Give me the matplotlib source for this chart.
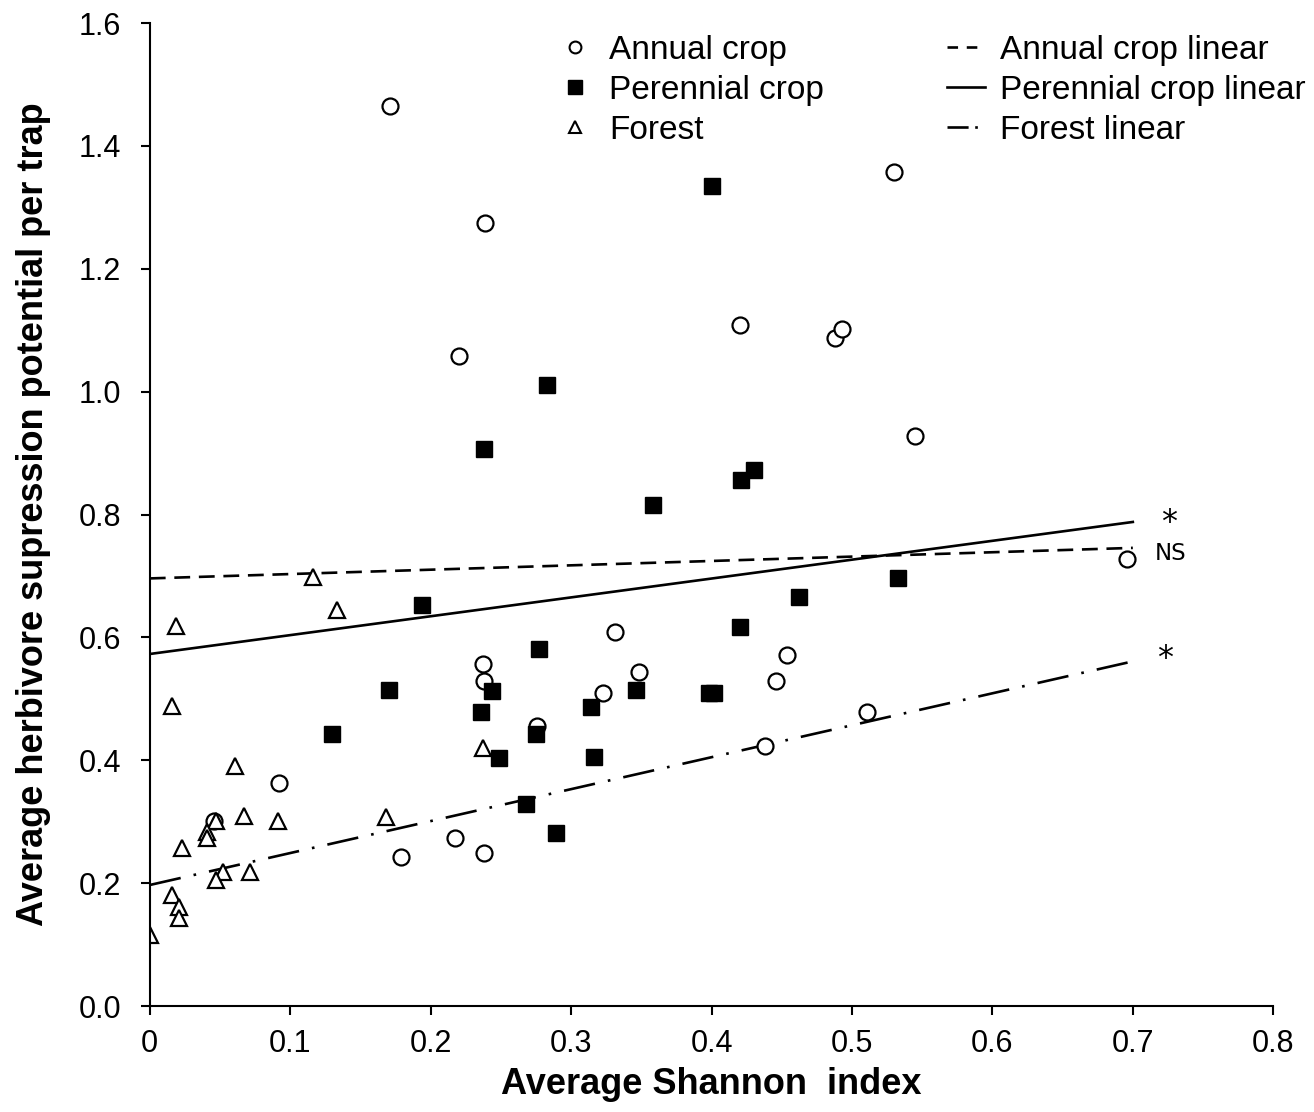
import numpy as np
import matplotlib
matplotlib.use("Agg")
import matplotlib.pyplot as plt
from matplotlib.lines import Line2D

plt.rcParams['font.family'] = ['Liberation Sans', 'DejaVu Sans']

# annual crop (open circles)
annual_x = [0.171, 0.239, 0.220, 0.530, 0.420, 0.488, 0.493, 0.545, 0.331, 0.237,
            0.238, 0.348, 0.323, 0.276, 0.454, 0.446, 0.511, 0.438, 0.696, 0.092,
            0.046, 0.179, 0.217, 0.238]
annual_y = [1.465, 1.275, 1.058, 1.357, 1.108, 1.087, 1.102, 0.928, 0.609, 0.557,
            0.529, 0.544, 0.509, 0.456, 0.571, 0.529, 0.479, 0.423, 0.728, 0.363,
            0.301, 0.243, 0.273, 0.249]

# perennial crop (filled squares)
perennial_x = [0.400, 0.283, 0.238, 0.430, 0.421, 0.358, 0.194, 0.533, 0.462, 0.420,
               0.277, 0.170, 0.244, 0.236, 0.346, 0.314, 0.398, 0.402, 0.130, 0.275,
               0.316, 0.249, 0.268, 0.289]
perennial_y = [1.335, 1.011, 0.907, 0.872, 0.856, 0.815, 0.653, 0.697, 0.666, 0.617,
               0.581, 0.514, 0.513, 0.479, 0.514, 0.487, 0.509, 0.509, 0.443, 0.443,
               0.405, 0.404, 0.329, 0.282]

# forest (open triangles)
forest_x = [0.116, 0.133, 0.019, 0.016, 0.061, 0.067, 0.091, 0.168, 0.237, 0.023,
            0.047, 0.041, 0.041, 0.052, 0.047, 0.071, 0.016, 0.021, 0.021, 0.000]
forest_y = [0.698, 0.645, 0.618, 0.488, 0.391, 0.309, 0.301, 0.308, 0.420, 0.257,
            0.301, 0.283, 0.273, 0.218, 0.205, 0.218, 0.181, 0.161, 0.143, 0.116]

# linear fits (intercept, slope) and x range
annual_fit = (0.696, 0.071)
perennial_fit = (0.573, 0.307)
forest_fit = (0.197, 0.52)
fit_x = [0.0, 0.70]

# significance marks
sig_labels = ['*', 'NS', '*']
sig_x = [0.726, 0.727, 0.723]
sig_y = [0.787, 0.737, 0.566]

fig = plt.figure(figsize=(13.14, 11.12), dpi=100)
ax = fig.add_axes([0.114, 0.0953, 0.855, 0.884])

lw = 1.9
xx = np.array(fit_x)
ax.plot(xx, annual_fit[0] + annual_fit[1] * xx, color='black', lw=lw,
        linestyle=(0, (6, 3.3)))
ax.plot(xx, perennial_fit[0] + perennial_fit[1] * xx, color='black', lw=lw)
ax.plot(xx, forest_fit[0] + forest_fit[1] * xx, color='black', lw=lw,
        linestyle=(0, (12, 5, 1, 5)))

ms = 11.5
ax.plot(annual_x, annual_y, 'o', ms=ms, mfc='white', mec='black', mew=1.6, ls='none')
ax.plot(perennial_x, perennial_y, 's', ms=ms, mfc='black', mec='black', mew=1.0, ls='none')
ax.plot(forest_x, forest_y, '^', ms=ms + 0.5, mfc='white', mec='black', mew=1.6, ls='none')

for lab, sx, sy in zip(sig_labels, sig_x, sig_y):
    fs = 16.5 if lab == 'NS' else 23
    ax.text(sx, sy, lab, fontsize=fs, family='DejaVu Sans', ha='center', va='center')

ax.set_xlim(0, 0.8)
ax.set_ylim(0, 1.6)
ax.set_xticks(np.arange(0, 0.81, 0.1))
ax.set_xticklabels(['0', '0.1', '0.2', '0.3', '0.4', '0.5', '0.6', '0.7', '0.8'])
ax.set_yticks(np.arange(0, 1.61, 0.2))
ax.set_yticklabels(['%.1f' % v for v in np.arange(0, 1.61, 0.2)])
ax.tick_params(direction='out', length=6.5, width=1.5, labelsize=22)
ax.tick_params(axis='x', pad=10)
ax.tick_params(axis='y', pad=14)
for s in ['top', 'right']:
    ax.spines[s].set_visible(False)
for s in ['left', 'bottom']:
    ax.spines[s].set_linewidth(1.5)

ax.set_xlabel('Average Shannon  index', fontsize=26, fontweight='bold', labelpad=6)
ax.set_ylabel('Average herbivore supression potential per trap', fontsize=26,
              fontweight='bold', labelpad=20)

handles = [
    Line2D([], [], marker='o', ls='none', mfc='white', mec='black', mew=1.5, ms=8.5),
    Line2D([], [], marker='s', ls='none', mfc='black', mec='black', ms=10),
    Line2D([], [], marker='^', ls='none', mfc='white', mec='black', mew=1.5, ms=8.5),
    Line2D([], [], color='black', lw=lw, linestyle=(0, (4, 3.3))),
    Line2D([], [], color='black', lw=lw),
    Line2D([], [], color='black', lw=lw, linestyle=(0, (8, 2.5, 1, 3))),
]
labels = ['Annual crop', 'Perennial crop', 'Forest',
          'Annual crop linear', 'Perennial crop linear', 'Forest linear']
ax.legend(handles, labels, ncol=2, frameon=False, fontsize=24,
          loc='upper left', bbox_to_anchor=(556 / 1314, 1 - 35 / 1112),
          bbox_transform=fig.transFigure, handlelength=1.14,
          handletextpad=0.45, columnspacing=3.7, labelspacing=0.27,
          borderpad=0, borderaxespad=0)

fig.savefig('out.png', dpi=100)
